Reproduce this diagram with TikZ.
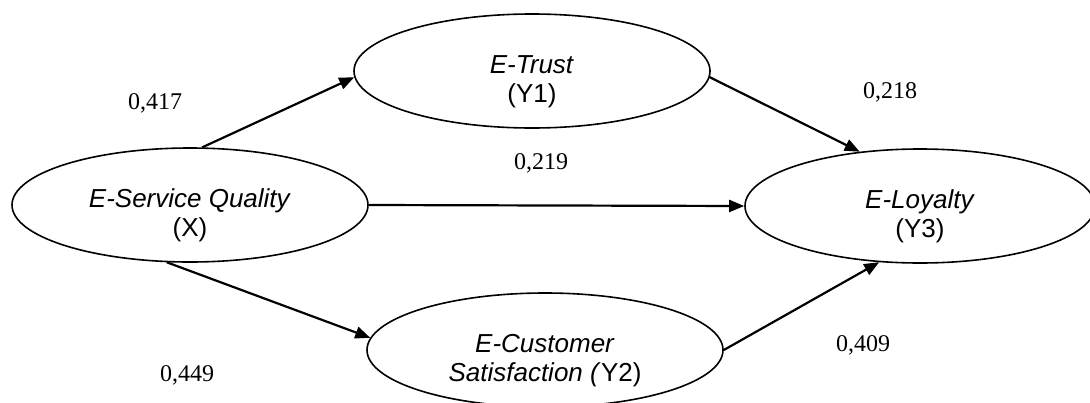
\documentclass[tikz,border=0pt]{standalone}
\usepackage{fontspec}
\setmainfont{Liberation Serif}
\newfontfamily\arialfont{Liberation Sans}
\usetikzlibrary{positioning, arrows.meta, shapes.geometric}

\begin{document}
\begin{tikzpicture}[
  x=1pt, y=-1pt,
  every node/.style={font=\fontsize{24}{27}\selectfont},
  arr/.style={-{Triangle[length=15pt, width=12pt]}, line width=2.2pt, black},
  var/.style={draw, ellipse, line width=1.6pt, minimum width=356pt, minimum height=114pt,
              inner sep=0pt, align=center, font=\arialfont\fontsize{26}{29}\selectfont},
  coef/.style={font=\fontsize{24}{27}\selectfont}
]
\useasboundingbox (0,0) rectangle (1090,402);

%% Constructs
\node[var] (X)  at (190,205) {\rule{0pt}{40pt}\textit{E-Service Quality}\\(X)};
\node[var] (Y1) at (532,71)  {\rule{0pt}{40pt}\textit{E-Trust}\\(Y1)};
\node[var, minimum width=350pt] (Y3) at (920,206) {\rule{0pt}{40pt}\textit{E-Loyalty}\\(Y3)};
\node[var] (Y2) at (545,350) {\rule{0pt}{40pt}\textit{E-Customer}\\\textit{Satisfaction (}Y2)};

%% ---- Paths ----
\draw[arr] (X.78) -- (Y1.182);
\draw[arr] (Y1.-2) -- (Y3.138);
\draw[arr] (X.east) -- (Y3.west);
\draw[arr] (X.-112) -- (Y2.176);
\draw[arr] (Y2.east) -- (Y3.234);

%% ---- Coefficients ----
\node[coef] (c417) at (155,103) {0,417};
\node[coef] (c218) at (890,92)  {0,218};
\node[coef] (c219) at (541,163) {0,219};
\node[coef] (c409) at (863,345) {0,409};
\node[coef] (c449) at (187,375) {0,449};

\end{tikzpicture}
\end{document}
